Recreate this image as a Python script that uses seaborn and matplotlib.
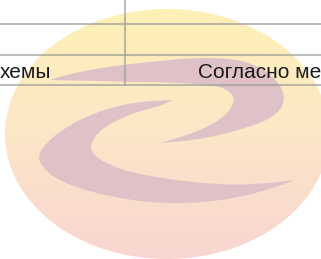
import numpy as np
import pandas as pd
import matplotlib
matplotlib.use("Agg")
import matplotlib.pyplot as plt
from matplotlib.patches import Ellipse, Polygon
import seaborn as sns

# ---- data (pixel-space coordinates of the picture, y grows downward) ----
W, H = 321, 259

# table rules
rule_rows_y = [24, 55, 85]
rule_col_x = [125]
rule_col_bottom = 85

# cell texts
cell_texts = ["хемы", "Согласно ме"]
cell_text_x = [0, 198]
cell_text_align = ["left", "left"]
cell_text_baseline = 78

# watermark ellipse
ellipse_center = (167, 134)
ellipse_size = (324, 250)
grad_stops_y = [10, 130, 259]
grad_colors = ["#fef1b6", "#fce7c7", "#f9d5d1"]

# upper swoosh (hook): outer edge then inner edge (both tip -> tip)
hook_outer_x = [50, 70, 100, 130, 160, 190, 220, 245, 265, 279, 285, 281, 266, 242, 212, 185, 160]
hook_outer_y = [80, 74, 68, 64, 61, 58, 58, 61, 70, 83, 97, 110, 121, 129, 137, 141, 143]
hook_inner_x = [160, 188, 207, 224, 234, 233, 222, 200, 160, 130, 100, 70, 50]
hook_inner_y = [143, 135, 127, 117, 104, 94, 87, 84, 82, 82, 81, 80.5, 80]

# lower swoosh (big C)
c_outer_x = [173, 160, 130, 100, 75, 55, 43, 38, 42, 55, 75, 100, 130, 160, 195, 230, 260, 282, 295]
c_outer_y = [100, 100.5, 103, 111, 122, 135, 147, 157, 167, 178, 187, 194, 200, 203, 203, 199, 192, 185, 180]
c_inner_x = [295, 270, 235, 200, 160, 130, 110, 96, 90, 93, 102, 117, 137, 160, 173]
c_inner_y = [180, 183, 185, 183, 178, 172, 165, 157, 149, 139, 129, 120, 112, 106, 100]

swoosh_color = "#dfc2c8"
rule_color = "#9a9a9a"
text_color = "#1a1a1a"


def chaikin(xs, ys, n=4):
    pts = np.column_stack([xs, ys]).astype(float)
    for _ in range(n):
        q = 0.75 * pts[:-1] + 0.25 * pts[1:]
        r = 0.25 * pts[:-1] + 0.75 * pts[1:]
        mid = np.empty((2 * len(q), 2))
        mid[0::2] = q
        mid[1::2] = r
        pts = np.vstack([pts[:1], mid, pts[-1:]])
    return pts


def hex_rgb(h):
    h = h.lstrip("#")
    return np.array([int(h[i:i + 2], 16) for i in (0, 2, 4)]) / 255.0


sns.set_theme(style="white")
plt.rcParams["font.family"] = ["Liberation Sans", "DejaVu Sans"]

fig = plt.figure(figsize=(W / 100, H / 100), dpi=100)
ax = fig.add_axes([0, 0, 1, 1])
ax.set_xlim(0, W)
ax.set_ylim(H, 0)
ax.axis("off")
fig.patch.set_facecolor("white")

# gradient-filled ellipse
yy = np.arange(H) + 0.5
cols = np.array([hex_rgb(c) for c in grad_colors])
grad = np.stack([np.interp(yy, grad_stops_y, cols[:, k]) for k in range(3)], axis=1)
img = np.repeat(grad[:, None, :], W, axis=1)
ell = Ellipse(ellipse_center, ellipse_size[0], ellipse_size[1], transform=ax.transData,
              facecolor="none", edgecolor="none")
ax.add_patch(ell)
im = ax.imshow(img, extent=(0, W, H, 0), origin="upper", zorder=1, interpolation="bilinear")
im.set_clip_path(ell)

# swooshes
for ox, oy, ix, iy in [(hook_outer_x, hook_outer_y, hook_inner_x, hook_inner_y),
                       (c_outer_x, c_outer_y, c_inner_x, c_inner_y)]:
    outer = chaikin(ox, oy)
    inner = chaikin(ix, iy)
    poly = np.vstack([outer, inner])
    ax.add_patch(Polygon(poly, closed=True, facecolor=swoosh_color, edgecolor="none", zorder=2))

# table rules
for y in rule_rows_y:
    sns.lineplot(x=[0, W], y=[y, y], ax=ax, color=rule_color, alpha=0.65, linewidth=1.5,
                 estimator=None, sort=False, zorder=3)
for x in rule_col_x:
    sns.lineplot(x=[x, x], y=[0, rule_col_bottom], ax=ax, color=rule_color, alpha=0.65,
                 linewidth=1.5, estimator=None, sort=False, zorder=3)

for t, x, ha in zip(cell_texts, cell_text_x, cell_text_align):
    ax.text(x, cell_text_baseline, t, ha=ha, va="baseline", fontsize=15, color=text_color, zorder=4)

ax.set_xlim(0, W)
ax.set_ylim(H, 0)
fig.savefig("out.png", dpi=100)
